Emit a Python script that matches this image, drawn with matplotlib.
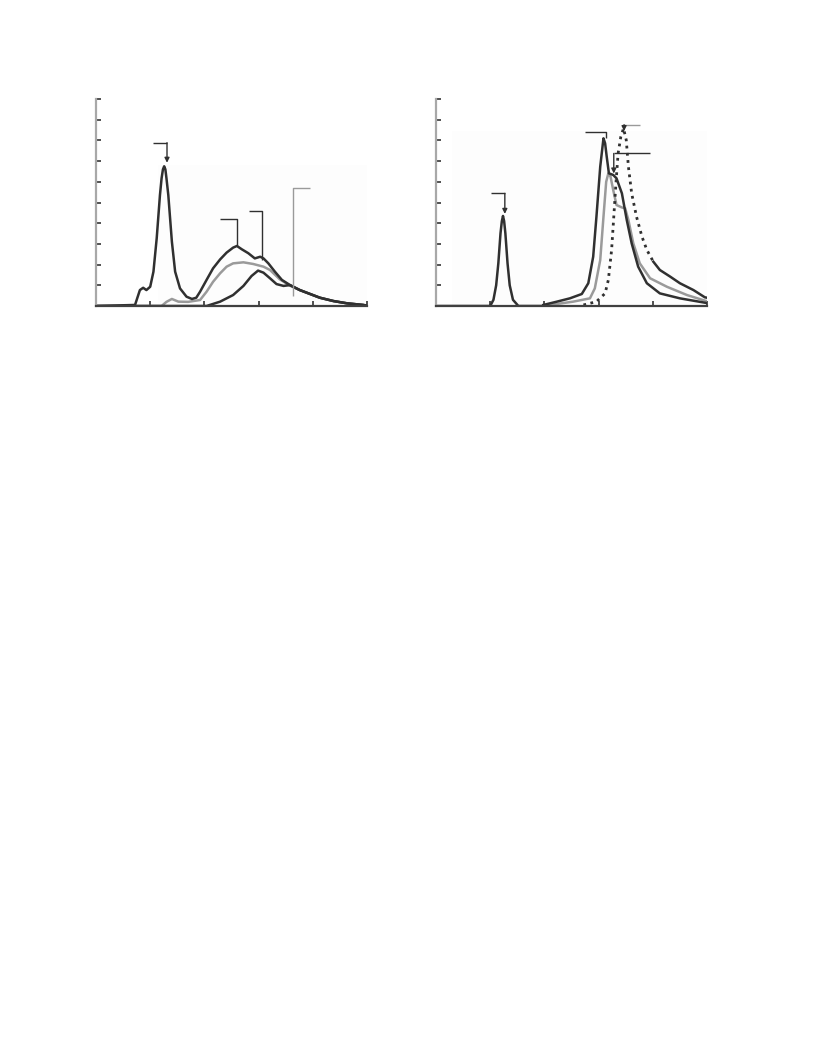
import numpy as np
import matplotlib
matplotlib.use("Agg")
import matplotlib.pyplot as plt
from matplotlib.patches import Rectangle

# ---- left panel data (x: 0-5, y: 0-10 arbitrary units) ----
left_a_x = [0.0, 0.72, 0.81, 0.87, 0.93, 1.0, 1.06, 1.12, 1.18, 1.21, 1.235, 1.258, 1.28,
            1.30, 1.334, 1.40, 1.46, 1.55, 1.67, 1.77, 1.85, 1.92, 2.04, 2.16, 2.29, 2.41,
            2.53, 2.60, 2.69, 2.81, 2.93, 3.03, 3.09, 3.18, 3.30, 3.43, 3.58, 3.76, 3.95,
            4.13, 4.38, 4.63, 4.93, 5.0]
left_a_y = [0.0, 0.05, 0.77, 0.88, 0.77, 0.93, 1.66, 3.27, 5.36, 6.17, 6.60, 6.75, 6.60,
            6.17, 5.36, 3.11, 1.66, 0.85, 0.45, 0.34, 0.40, 0.69, 1.26, 1.82, 2.25, 2.58,
            2.82, 2.90, 2.74, 2.55, 2.30, 2.38, 2.30, 2.06, 1.66, 1.26, 1.01, 0.77, 0.58,
            0.40, 0.24, 0.13, 0.05, 0.02]

left_b_x = [0.0, 1.21, 1.30, 1.40, 1.52, 1.70, 1.92, 2.04, 2.16, 2.29, 2.41, 2.53, 2.72,
            2.90, 3.09, 3.21, 3.39, 3.58, 3.76, 3.95, 4.13, 4.38, 4.63, 4.93, 5.0]
left_b_y = [0.0, 0.0, 0.20, 0.34, 0.21, 0.20, 0.29, 0.69, 1.17, 1.58, 1.90, 2.06, 2.11,
            2.03, 1.90, 1.74, 1.29, 0.98, 0.77, 0.58, 0.40, 0.24, 0.13, 0.05, 0.02]

left_c_x = [0.0, 2.04, 2.29, 2.53, 2.72, 2.87, 2.99, 3.09, 3.21, 3.33, 3.46, 3.58, 3.76,
            3.95, 4.13, 4.38, 4.63, 4.93, 5.0]
left_c_y = [0.0, 0.0, 0.21, 0.53, 0.97, 1.45, 1.71, 1.61, 1.34, 1.06, 0.97, 1.01, 0.77,
            0.58, 0.40, 0.24, 0.13, 0.05, 0.02]

# ---- right panel data ----
right_small_x = [0.0, 1.0, 1.06, 1.11, 1.15, 1.19, 1.215, 1.236, 1.257, 1.28, 1.32, 1.36,
                 1.42, 1.52, 2.0]
right_small_y = [0.0, 0.0, 0.30, 1.00, 2.06, 3.51, 4.10, 4.35, 4.10, 3.51, 2.06, 1.00,
                 0.30, 0.0, 0.0]

right_a_x = [1.98, 2.23, 2.47, 2.69, 2.81, 2.90, 2.96, 3.03, 3.09, 3.12, 3.15, 3.19, 3.27,
             3.33, 3.43, 3.52, 3.61, 3.73, 3.89, 4.13, 4.50, 4.96, 5.0]
right_a_y = [0.05, 0.21, 0.37, 0.58, 1.10, 2.38, 4.31, 6.73, 8.10, 7.86, 7.21, 6.41, 6.33,
             6.17, 5.44, 4.15, 3.03, 1.90, 1.10, 0.61, 0.37, 0.16, 0.14]

right_b_x = [2.10, 2.53, 2.84, 2.93, 3.03, 3.09, 3.14, 3.18, 3.22, 3.27, 3.33, 3.43, 3.49,
             3.55, 3.64, 3.76, 3.95, 4.26, 4.63, 4.96, 5.0]
right_b_y = [0.05, 0.21, 0.37, 0.85, 2.22, 4.31, 6.00, 6.41, 6.25, 5.60, 4.88, 4.76, 4.72,
             4.15, 3.03, 2.06, 1.34, 0.93, 0.53, 0.26, 0.24]

right_dot_x = [2.72, 2.96, 3.12, 3.18, 3.24, 3.28, 3.32, 3.36, 3.41, 3.46, 3.51, 3.55,
               3.61, 3.70, 3.80, 3.89, 4.01]
right_dot_y = [0.05, 0.21, 0.61, 1.26, 2.71, 4.31, 5.93, 7.37, 8.18, 8.58, 8.02, 6.73,
               5.44, 4.31, 3.35, 2.71, 2.14]
right_tail_x = [4.01, 4.13, 4.32, 4.50, 4.75, 4.96, 5.0]
right_tail_y = [2.14, 1.74, 1.42, 1.10, 0.77, 0.42, 0.40]

DARK = "#303030"
GREY = "#9a9a9a"

fig = plt.figure(figsize=(8.16, 10.56), dpi=100)
ax1 = fig.add_axes([96 / 816, 1 - 306 / 1056, 271 / 816, 207 / 1056])
ax2 = fig.add_axes([436 / 816, 1 - 306 / 1056, 271 / 816, 207 / 1056])


def style(ax):
    ax.set_xlim(0, 5)
    ax.set_ylim(0, 10)
    ax.set_xticks(range(6))
    ax.set_yticks(range(11))
    ax.set_xticklabels([])
    ax.set_yticklabels([])
    ax.tick_params(direction="in", length=3.5, width=1.2, color="#333333")
    ax.spines["top"].set_visible(False)
    ax.spines["right"].set_visible(False)
    ax.spines["left"].set_color("#a8a8a8")
    ax.spines["left"].set_linewidth(1.6)
    ax.spines["bottom"].set_color("#404040")
    ax.spines["bottom"].set_linewidth(1.6)
    for s in ax.spines.values():
        s.set_clip_on(False)


def leader(ax, pts, color=DARK, arrow=False):
    xs, ys = zip(*pts)
    if arrow:
        ax.plot(xs[:-1], ys[:-1], color=color, lw=1.0, solid_capstyle="butt")
        ax.annotate("", xy=pts[-1], xytext=pts[-2],
                    arrowprops=dict(arrowstyle="-|>", color=DARK, lw=1.0,
                                    mutation_scale=7, shrinkA=0, shrinkB=0))
    else:
        ax.plot(xs, ys, color=color, lw=1.0, solid_capstyle="butt")


style(ax1)
style(ax2)

# very faint shaded regions seen in the scan
ax1.add_patch(Rectangle((1.14, 0), 3.86, 6.83, color="#fdfdfd", zorder=0, lw=0))
ax2.add_patch(Rectangle((0.3, 0), 4.7, 8.46, color="#fdfdfd", zorder=0, lw=0))

# left panel
ax1.plot(left_b_x, left_b_y, color=GREY, lw=1.8)
ax1.plot(left_c_x, left_c_y, color=DARK, lw=1.8)
ax1.plot(left_a_x, left_a_y, color=DARK, lw=1.8)

leader(ax1, [(1.05, 7.89), (1.31, 7.89), (1.31, 6.92)], arrow=True)
leader(ax1, [(2.29, 4.19), (2.61, 4.19), (2.61, 2.92)])
leader(ax1, [(2.83, 4.60), (3.07, 4.60), (3.07, 2.22)])
leader(ax1, [(3.95, 5.72), (3.63, 5.72), (3.63, 0.48)], color=GREY)

# right panel
ax2.plot(right_small_x, right_small_y, color=DARK, lw=1.8)
ax2.plot(right_b_x, right_b_y, color=GREY, lw=1.8)
ax2.plot(right_a_x, right_a_y, color=DARK, lw=1.8)
ax2.plot(right_dot_x, right_dot_y, color=DARK, lw=2.0, linestyle=(0, (1, 1.6)))
ax2.plot(right_tail_x, right_tail_y, color=DARK, lw=1.8)

leader(ax2, [(1.01, 5.44), (1.27, 5.44), (1.27, 4.45)], arrow=True)
leader(ax2, [(2.75, 8.42), (3.13, 8.42), (3.13, 8.12)])
leader(ax2, [(3.76, 8.76), (3.47, 8.76), (3.47, 8.45)], color=GREY, arrow=True)
leader(ax2, [(3.95, 7.37), (3.28, 7.37), (3.28, 6.40)], arrow=True)

fig.savefig("out.png", dpi=100)
